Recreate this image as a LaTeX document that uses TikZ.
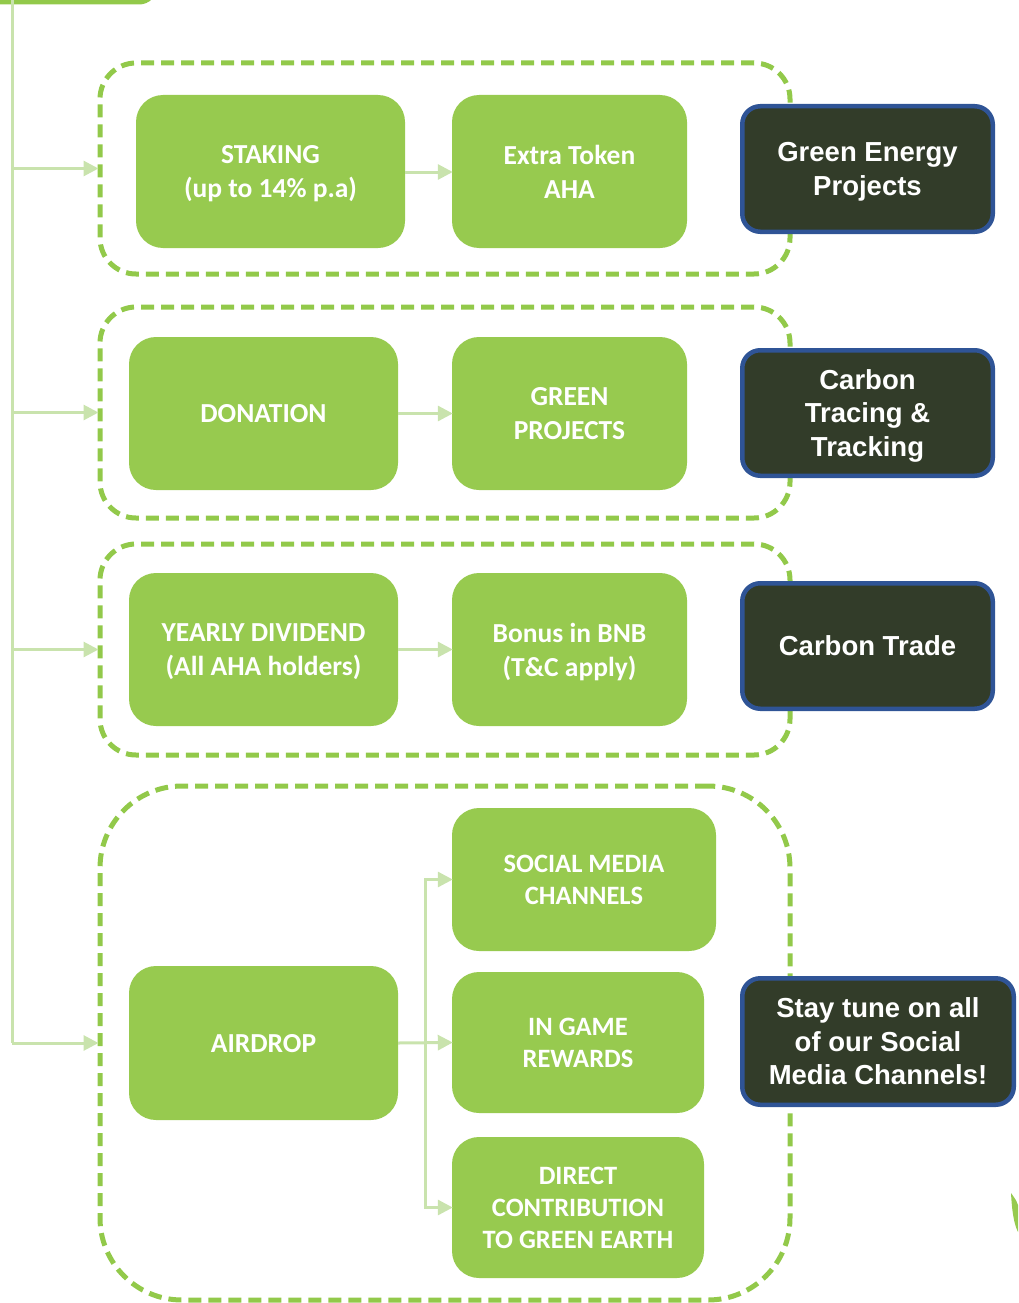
\documentclass[tikz,border=0pt]{standalone}
\usepackage{fontspec}
\newfontfamily\calfnt{Carlito}
\newfontfamily\arifnt{Liberation Sans}
\usetikzlibrary{arrows.meta}
\definecolor{gfill}{HTML}{97CA4F}
\definecolor{gdash}{HTML}{92C94A}
\definecolor{larr}{HTML}{C9E3AD}
\definecolor{dfill}{HTML}{323C29}
\definecolor{bord}{HTML}{2F5496}
\tikzset{
  gbox/.style={draw=none, fill=gfill, rounded corners=27pt, inner sep=0pt, align=center,
    text=white, text depth=0pt, font=\calfnt\bfseries\fontsize{27.5}{34}\selectfont},
  sbox/.style={gbox, font=\calfnt\bfseries\fontsize{26.5}{32}\selectfont},
  dbox/.style={draw=bord, line width=4.5pt, fill=dfill, rounded corners=18pt, inner sep=0pt,
    align=center, text=white, text depth=0pt, font=\arifnt\bfseries\fontsize{27.5}{33.5}\selectfont},
  cont/.style={draw=gdash, line width=5pt, dash pattern=on 13pt off 7pt, rounded corners=36pt,
    inner sep=0pt},
  conn/.style={draw=larr, line width=3pt},
  arr/.style={conn, -{Triangle[length=15pt,width=15pt]}, shorten >=-1pt},
}
\begin{document}
\begin{tikzpicture}[x=1pt,y=-1pt]
\useasboundingbox (0,0) rectangle (1018,1303);
\clip (0,0) rectangle (1018,1303);
% partial box at top
\draw[gdash, line width=5pt, rounded corners=16pt] (-20,-60) rectangle (155,2);
% containers
\node[cont, minimum width=690pt, minimum height=211pt] (c1) at (445,168.5) {};
\node[cont, minimum width=690pt, minimum height=211pt] (c2) at (445,412.5) {};
\node[cont, minimum width=690pt, minimum height=211pt] (c3) at (445,649.5) {};
\node[cont, rounded corners=82pt, minimum width=690pt, minimum height=514pt] (c4) at (445,1043) {};
% trunk
\coordinate (top) at (12,0);
\draw[conn] (top) -- (top |- c4.west);
\draw[arr] (top |- c1.west) -- (c1.west);
\draw[arr] (top |- c2.west) -- (c2.west);
\draw[arr] (top |- c3.west) -- (c3.west);
\draw[arr] (top |- c4.west) -- (c4.west);
% green boxes
\node[gbox, minimum width=269pt, minimum height=153pt] (stk) at (270.5,171.5) {STAKING\\(up to 14\% p.a)};
\node[gbox, minimum width=235pt, minimum height=153pt] (eta) at (569.5,171.5) {Extra Token\\AHA};
\node[gbox, minimum width=269pt, minimum height=153pt] (don) at (263.5,413.5) {DONATION};
\node[gbox, minimum width=235pt, minimum height=153pt] (grp) at (569.5,413.5) {GREEN\\PROJECTS};
\node[gbox, minimum width=269pt, minimum height=153pt] (yd) at (263.5,649.5) {YEARLY DIVIDEND\\(All AHA holders)};
\node[gbox, minimum width=235pt, minimum height=153pt] (bnb) at (569.5,649.5) {Bonus in BNB\\(T\&C apply)};
\node[gbox, minimum width=269pt, minimum height=154pt] (air) at (263.5,1043) {AIRDROP};
\node[sbox, minimum width=264pt, minimum height=143pt] (smc) at (584,879.5) {SOCIAL MEDIA\\CHANNELS};
\node[sbox, minimum width=252pt, minimum height=141pt] (igr) at (578,1042.5) {IN GAME\\REWARDS};
\node[sbox, minimum width=252pt, minimum height=141pt] (dcg) at (578,1207.5) {DIRECT\\CONTRIBUTION\\TO GREEN EARTH};
% inner arrows
\draw[arr] (stk.east |- 0,172) -- (eta.west |- 0,172);
\draw[arr] (don.east) -- (grp.west);
\draw[arr] (yd.east) -- (bnb.west);
\coordinate (fork) at (425,1043);
\draw[arr] (air.east) -- (igr.west);
\draw[arr] (fork) |- (smc.west);
\draw[arr] (fork) |- (dcg.west);
% dark boxes
\node[dbox, minimum width=250.5pt, minimum height=125.5pt] (gep) at (867.5,169) {Green Energy\\Projects};
\node[dbox, minimum width=250.5pt, minimum height=125.5pt] (ctt) at (867.5,413) {Carbon\\Tracing \&\\Tracking};
\node[dbox, minimum width=250.5pt, minimum height=125.5pt] (ctr) at (867.5,646) {Carbon Trade};
\node[dbox, minimum width=271.5pt, minimum height=126.5pt] (stay) at (878,1041.5) {Stay tune on all\\of our Social\\Media Channels!};
% leaf
\fill[gfill] (1011,1193) .. controls (1012,1212) and (1014,1224) .. (1018,1232) -- (1018,1205) .. controls (1016,1200) .. (1011,1193) -- cycle;
\end{tikzpicture}
\end{document}
